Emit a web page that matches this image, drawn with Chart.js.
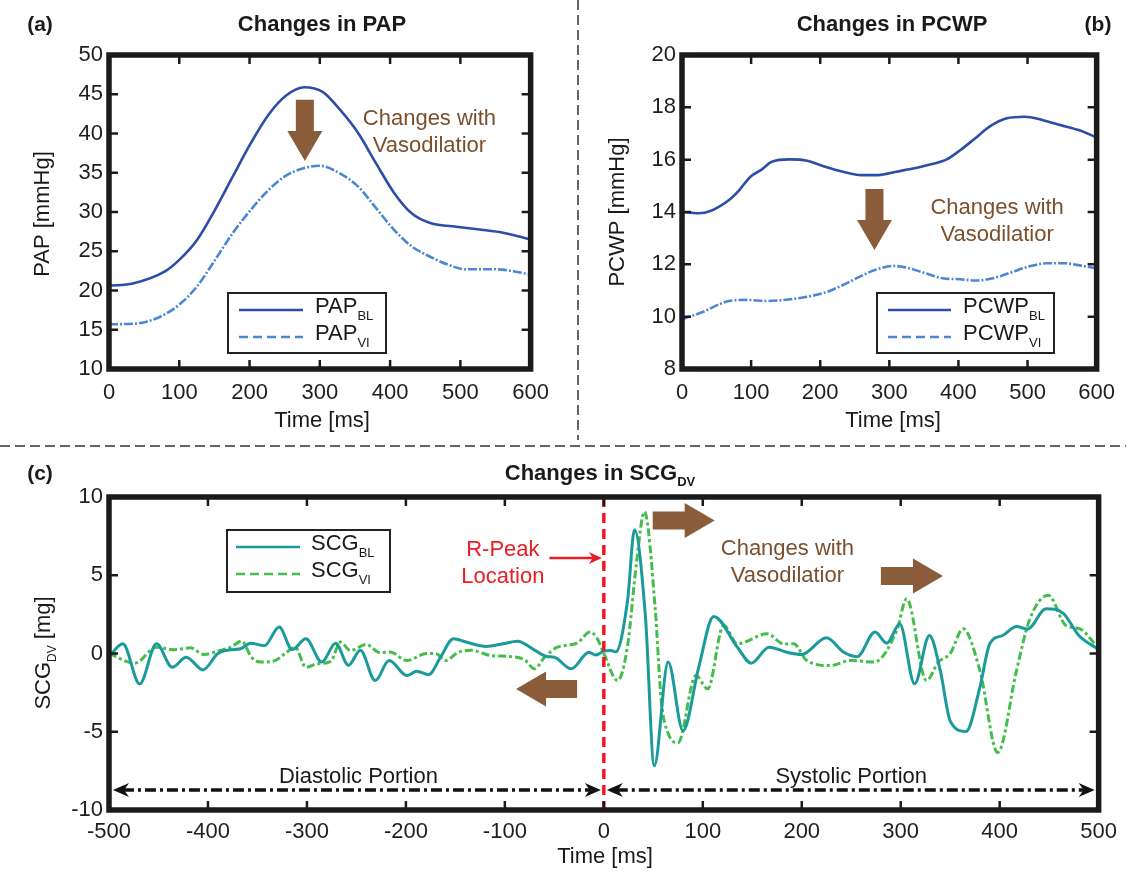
<!DOCTYPE html>
<html>
<head>
<meta charset="utf-8">
<title>Changes in PAP, PCWP and SCG</title>
<script src="https://cdn.jsdelivr.net/npm/chart.js@4.4.0/dist/chart.umd.min.js"></script>
<style>
  html, body { margin: 0; padding: 0; background: #fff; }
  #page { position: relative; width: 1126px; height: 873px; }
  #page canvas { position: absolute; }
</style>
</head>
<body>
<div id="page">
  <canvas id="papChart" width="560" height="440" style="left:0;top:0"></canvas>
  <canvas id="pcwpChart" width="566" height="440" style="left:560px;top:0"></canvas>
  <canvas id="scgChart" width="1126" height="433" style="left:0;top:440px"></canvas>
</div>
<script>
const FONT = '"Liberation Sans", Arial, Helvetica, sans-serif';
const BROWN = '#8a5c3a';
const BROWN_TEXT = '#7b4f2b';

// (a) pulmonary artery pressure
const papTimeBL = [0, 34, 79, 100, 125, 151, 176, 202, 227, 253, 278, 304, 329, 355, 380, 406, 431, 457, 497, 533, 559, 600];
const papBL = [20.6, 20.9, 22.4, 23.9, 26.4, 30.3, 34.5, 38.8, 42.4, 44.9, 45.9, 45.3, 43.0, 40.0, 36.2, 32.4, 29.8, 28.6, 28.1, 27.7, 27.4, 26.5];
const papTimeVI = [0, 39, 69, 100, 125, 151, 176, 202, 227, 253, 278, 299, 329, 355, 380, 406, 431, 457, 482, 508, 549, 579, 600];
const papVI = [15.7, 15.8, 16.5, 18.2, 20.5, 23.9, 27.3, 30.3, 32.8, 34.7, 35.6, 35.9, 34.9, 33.2, 30.5, 27.7, 25.6, 24.3, 23.3, 22.7, 22.7, 22.4, 22.0];

// (b) pulmonary capillary wedge pressure
const pcwpTimeBL = [0, 24, 42, 68, 83, 99, 114, 130, 155, 181, 207, 233, 259, 284, 310, 336, 362, 383, 403, 424, 445, 470, 496, 522, 548, 574, 600];
const pcwpBL = [14.0, 13.95, 14.05, 14.46, 14.84, 15.35, 15.6, 15.92, 16.01, 15.96, 15.73, 15.54, 15.41, 15.41, 15.54, 15.67, 15.83, 16.01, 16.37, 16.81, 17.26, 17.58, 17.64, 17.51, 17.32, 17.13, 16.85];
const pcwpTimeVI = [0, 31, 52, 68, 93, 124, 155, 181, 207, 233, 259, 279, 305, 326, 352, 377, 403, 424, 450, 475, 501, 527, 553, 579, 600];
const pcwpVI = [9.9, 10.19, 10.45, 10.6, 10.64, 10.6, 10.66, 10.76, 10.92, 11.21, 11.55, 11.78, 11.94, 11.87, 11.66, 11.47, 11.43, 11.38, 11.47, 11.68, 11.91, 12.04, 12.04, 11.94, 11.85];

// (c) dorso-ventral SCG around the R-peak
const scgTimeBL = [-500, -486, -469, -452, -436, -422, -405, -390, -377, -367, -357, -343, -328, -315, -301, -285, -271, -258, -246, -231,
  -217, -199, -189, -177, -165, -152, -139, -119, -102, -87, -72, -58, -50, -33, -15, -8, 0, 7, 12, 24,
  31, 42, 51, 65, 80, 96, 111, 135, 149, 167, 185, 200, 225, 242, 256, 274, 286, 299, 314, 329,
  340, 350, 366, 380, 390, 403, 417, 428, 447, 464, 480, 500];
const scgBL = [-0.2, 0.62, -1.94, 0.62, -0.88, -0.24, -1.05, 0.0, 0.24, 0.3, 0.66, 0.5, 1.69, 0.25, 0.94, -0.55, 0.66, -0.75, 0.2, -1.73,
  -0.45, -1.41, -1.13, -1.35, -0.24, 0.94, 0.73, 0.45, 0.62, 0.79, 0.3, -0.19, -0.24, -0.98, 0.08, -0.1, 0.15, 0.19, 0.1, 3.4,
  7.9, 2.4, -7.18, -0.55, -4.94, -0.85, 2.37, 0.4, -0.62, 0.4, 0.08, -0.06, 1.0, 0.1, -0.2, 1.37, 0.66, 1.9, -1.94, 1.15,
  -1.09, -4.3, -4.98, -2.16, 0.62, 1.15, 1.73, 1.56, 2.86, 2.58, 1.15, 0.25];
const scgTimeVI = [-500, -474, -452, -434, -418, -404, -388, -377, -366, -356, -347, -334, -322, -312, -301, -290, -276, -266, -256, -240,
  -226, -216, -199, -179, -170, -160, -147, -134, -114, -93, -80, -70, -60, -47, -27, -14, -7, 0, 14, 24,
  33, 41, 52, 58, 65, 75, 93, 105, 121, 135, 165, 182, 192, 205, 229, 249, 273, 296, 306, 326,
  338, 350, 363, 380, 398, 417, 430, 449, 467, 481, 500];
const scgVI = [0.0, -0.62, 0.4, 0.24, 0.36, -0.06, 0.19, 0.4, 0.79, -0.24, -0.55, -0.5, 0.0, 0.4, -0.88, -0.66, -0.5, 0.73, 0.19, 0.58,
  0.05, 0.1, -0.45, 0.0, 0.0, -0.45, 0.08, 0.2, -0.13, -0.2, -0.4, -0.98, -0.25, 0.4, 0.66, 1.37, 1.0, 0.0, -1.73, 0.5,
  5.8, 9.06, 2.8, -3.0, -5.1, -5.7, -1.4, -2.26, 1.8, 0.62, 1.26, 0.6, 0.62, -0.45, -0.77, -0.45, -0.55, 1.47, 3.5, -1.73,
  -0.55, 0.0, 1.58, -1.09, -6.33, -1.09, 2.12, 3.72, 1.79, 1.58, 0.3];

// tick labels
const timeTicks = [0, 100, 200, 300, 400, 500, 600];
const papTicks = [10, 15, 20, 25, 30, 35, 40, 45, 50];
const pcwpTicks = [8, 10, 12, 14, 16, 18, 20];
const scgTimeTicks = [-500, -400, -300, -200, -100, 0, 100, 200, 300, 400, 500];
const scgTicks = [-10, -5, 0, 5, 10];

function pts(xs, ys) {
  return xs.map((x, i) => ({ x: x, y: ys[i] }));
}

function scaleOpts(min, max, values, pad, size, isY) {
  return {
    type: 'linear',
    min: min,
    max: max,
    grid: { display: false, drawTicks: false },
    border: { display: false },
    afterBuildTicks: s => { s.ticks = values.map(v => ({ value: v })); },
    afterFit: s => { if (isY) s.width = size; else s.height = size; },
    ticks: {
      font: { family: FONT, size: 22 },
      color: '#1e1e1e',
      padding: pad,
      autoSkip: false,
      maxRotation: 0,
      minRotation: 0,
    },
  };
}

function line(label, data, color, width, dash) {
  return {
    label: label,
    data: data,
    borderColor: color,
    borderWidth: width,
    borderDash: dash || [],
    pointRadius: 0,
    fill: false,
    cubicInterpolationMode: 'monotone',
  };
}

// text made of runs: [text, isSubscript]
function runsWidth(ctx, runs, o) {
  let w = 0;
  runs.forEach(([t, sub]) => {
    ctx.font = `${o.weight || 'normal'} ${sub ? o.subSize : o.size}px ${FONT}`;
    w += ctx.measureText(t).width;
  });
  return w;
}

function drawRuns(ctx, runs, x, y, o) {
  o = Object.assign({ size: 22, subSize: 13, subDrop: 7, align: 'left', color: '#1a1a1a' }, o);
  ctx.save();
  ctx.translate(x, y);
  if (o.rotate) ctx.rotate(-Math.PI / 2);
  let cx = o.align === 'center' ? -runsWidth(ctx, runs, o) / 2 : 0;
  ctx.textAlign = 'left';
  ctx.textBaseline = 'alphabetic';
  ctx.fillStyle = o.color;
  runs.forEach(([t, sub]) => {
    ctx.font = `${o.weight || 'normal'} ${sub ? o.subSize : o.size}px ${FONT}`;
    ctx.fillText(t, cx, sub ? o.subDrop : 0);
    cx += ctx.measureText(t).width;
  });
  ctx.restore();
}

function blockArrow(ctx, x1, y1, x2, y2, shaft, head, headLen) {
  const ang = Math.atan2(y2 - y1, x2 - x1);
  const len = Math.hypot(x2 - x1, y2 - y1);
  ctx.save();
  ctx.translate(x1, y1);
  ctx.rotate(ang);
  ctx.beginPath();
  ctx.moveTo(0, -shaft / 2);
  ctx.lineTo(len - headLen, -shaft / 2);
  ctx.lineTo(len - headLen, -head / 2);
  ctx.lineTo(len, 0);
  ctx.lineTo(len - headLen, head / 2);
  ctx.lineTo(len - headLen, shaft / 2);
  ctx.lineTo(0, shaft / 2);
  ctx.closePath();
  ctx.fillStyle = BROWN;
  ctx.fill();
  ctx.restore();
}

// small pointed head, dir = +1 points right, -1 points left
function arrowHead(ctx, x, y, dir, len, half, color) {
  ctx.beginPath();
  ctx.moveTo(x, y);
  ctx.lineTo(x - dir * len, y - half);
  ctx.lineTo(x - dir * len * 0.7, y);
  ctx.lineTo(x - dir * len, y + half);
  ctx.closePath();
  ctx.fillStyle = color;
  ctx.fill();
}

function dashedRule(ctx, x1, y1, x2, y2) {
  ctx.save();
  ctx.strokeStyle = '#333';
  ctx.lineWidth = 1.5;
  ctx.setLineDash([10, 5]);
  ctx.beginPath();
  ctx.moveTo(x1, y1);
  ctx.lineTo(x2, y2);
  ctx.stroke();
  ctx.restore();
}

// frame, inward ticks, legend, notes and arrows of one panel
function panelDecor(cfg) {
  return {
    id: 'panelDecor',
    afterDatasetsDraw(chart) {
      const ctx = chart.ctx;
      const a = chart.chartArea;
      const xs = chart.scales.x;
      const ys = chart.scales.y;
      const px = v => xs.getPixelForValue(v);
      const py = v => ys.getPixelForValue(v);
      ctx.save();

      if (cfg.rules) cfg.rules(ctx, chart);
      if (cfg.extra) cfg.extra(ctx, px, py, a);

      (cfg.arrows || []).forEach(ar => {
        blockArrow(ctx, px(ar.from[0]), py(ar.from[1]), px(ar.to[0]), py(ar.to[1]), 18, 35, 30);
      });

      (cfg.notes || []).forEach(n => {
        drawRuns(ctx, n.runs, px(n.at[0]), py(n.at[1]), Object.assign({ align: 'center' }, n.style));
      });

      // frame
      ctx.strokeStyle = '#1b1b1b';
      ctx.lineWidth = 5.5;
      ctx.setLineDash([]);
      ctx.strokeRect(a.left, a.top, a.right - a.left, a.bottom - a.top);

      // ticks pointing into the plot on all four sides
      ctx.lineWidth = 2.5;
      ctx.beginPath();
      xs.ticks.forEach(t => {
        const x = px(t.value);
        ctx.moveTo(x, a.bottom); ctx.lineTo(x, a.bottom - 9);
        ctx.moveTo(x, a.top); ctx.lineTo(x, a.top + 9);
      });
      ys.ticks.forEach(t => {
        const y = py(t.value);
        ctx.moveTo(a.left, y); ctx.lineTo(a.left + 9, y);
        ctx.moveTo(a.right, y); ctx.lineTo(a.right - 9, y);
      });
      ctx.stroke();

      // legend box
      const lg = cfg.legend;
      if (lg) {
        ctx.fillStyle = '#fff';
        ctx.fillRect(lg.box[0], lg.box[1], lg.box[2], lg.box[3]);
        ctx.strokeStyle = '#222';
        ctx.lineWidth = 2;
        ctx.strokeRect(lg.box[0], lg.box[1], lg.box[2], lg.box[3]);
        lg.items.forEach(it => {
          const ds = chart.data.datasets[it.ds];
          ctx.strokeStyle = ds.borderColor;
          ctx.lineWidth = 2.5;
          ctx.setLineDash(it.dash || []);
          ctx.beginPath();
          ctx.moveTo(lg.lineX[0], it.y);
          ctx.lineTo(lg.lineX[1], it.y);
          ctx.stroke();
          ctx.setLineDash([]);
          drawRuns(ctx, it.runs, lg.textX, it.y + 3, {});
        });
      }

      (cfg.labels || []).forEach(l => drawRuns(ctx, l.runs, l.x, l.y, l.style));
      ctx.restore();
    },
  };
}

const bold = { weight: 'bold', size: 22, subSize: 13, subDrop: 6, align: 'center' };
const letter = { weight: 'bold', size: 21, align: 'center' };
const brownText = { color: BROWN_TEXT };

function baseOptions(xScale, yScale, padding) {
  return {
    responsive: false,
    animation: false,
    events: [],
    layout: { padding: padding },
    plugins: { legend: { display: false }, tooltip: { enabled: false }, title: { display: false } },
    scales: { x: xScale, y: yScale },
  };
}

new Chart(document.getElementById('papChart'), {
  type: 'line',
  data: {
    datasets: [
      line('PAP BL', pts(papTimeBL, papBL), '#2d4ea7', 2.6),
      line('PAP VI', pts(papTimeVI, papVI), '#4c88d2', 2.6, [9, 2, 2, 2]),
    ],
  },
  options: baseOptions(
    scaleOpts(0, 600, timeTicks, 11, 71, false),
    scaleOpts(10, 50, papTicks, 6, 109, true),
    { top: 55, right: 29, left: 0, bottom: 0 }
  ),
  plugins: [panelDecor({
    arrows: [{ from: [278.7, 44.3], to: [278.7, 36.5] }],
    notes: [
      { runs: [['Changes with']], at: [456, 41.1], style: brownText },
      { runs: [['Vasodilatior']], at: [456, 37.6], style: brownText },
    ],
    legend: {
      box: [228, 293, 158, 60], lineX: [239, 303], textX: 315,
      items: [
        { ds: 0, y: 310, runs: [['PAP'], ['BL', true]] },
        { ds: 1, y: 337, runs: [['PAP'], ['VI', true]], dash: [9, 5] },
      ],
    },
    labels: [
      { runs: [['(a)']], x: 40, y: 31, style: letter },
      { runs: [['Changes in PAP']], x: 322, y: 31, style: bold },
      { runs: [['Time [ms]']], x: 322, y: 427, style: { align: 'center' } },
      { runs: [['PAP [mmHg]']], x: 49, y: 214, style: { align: 'center', rotate: true } },
    ],
  })],
});

new Chart(document.getElementById('pcwpChart'), {
  type: 'line',
  data: {
    datasets: [
      line('PCWP BL', pts(pcwpTimeBL, pcwpBL), '#2d4ea7', 2.6),
      line('PCWP VI', pts(pcwpTimeVI, pcwpVI), '#4c88d2', 2.6, [9, 2, 2, 2]),
    ],
  },
  options: baseOptions(
    scaleOpts(0, 600, timeTicks, 11, 71, false),
    scaleOpts(8, 20, pcwpTicks, 6, 122, true),
    { top: 55, right: 26, left: 0, bottom: 0 }
  ),
  plugins: [panelDecor({
    rules: ctx => dashedRule(ctx, 18, 0, 18, 440),
    arrows: [{ from: [278.5, 14.88], to: [278.5, 12.55] }],
    notes: [
      { runs: [['Changes with']], at: [456, 13.92], style: brownText },
      { runs: [['Vasodilatior']], at: [456, 12.89], style: brownText },
    ],
    legend: {
      box: [317, 293, 177, 60], lineX: [328, 391], textX: 403,
      items: [
        { ds: 0, y: 310, runs: [['PCWP'], ['BL', true]] },
        { ds: 1, y: 337, runs: [['PCWP'], ['VI', true]], dash: [9, 5] },
      ],
    },
    labels: [
      { runs: [['(b)']], x: 538, y: 31, style: letter },
      { runs: [['Changes in PCWP']], x: 332, y: 31, style: bold },
      { runs: [['Time [ms]']], x: 333, y: 427, style: { align: 'center' } },
      { runs: [['PCWP [mmHg]']], x: 64, y: 212, style: { align: 'center', rotate: true } },
    ],
  })],
});

new Chart(document.getElementById('scgChart'), {
  type: 'line',
  data: {
    datasets: [
      line('SCG BL', pts(scgTimeBL, scgBL), '#1a9a9b', 3),
      line('SCG VI', pts(scgTimeVI, scgVI), '#43bd4b', 3, [8, 3, 3, 3]),
    ],
  },
  options: baseOptions(
    scaleOpts(-500, 500, scgTimeTicks, 9, 63, false),
    scaleOpts(-10, 10, scgTicks, 6, 109, true),
    { top: 57, right: 25, left: 0, bottom: 0 }
  ),
  plugins: [panelDecor({
    rules: ctx => dashedRule(ctx, 0, 6, 1126, 6),
    extra: (ctx, px, py, a) => {
      // R-peak marker
      ctx.save();
      ctx.strokeStyle = '#ec1c24';
      ctx.lineWidth = 3.5;
      ctx.setLineDash([10, 6]);
      ctx.beginPath();
      ctx.moveTo(px(0), a.top);
      ctx.lineTo(px(0), a.bottom);
      ctx.stroke();
      ctx.setLineDash([]);
      ctx.lineWidth = 2.5;
      ctx.beginPath();
      ctx.moveTo(px(-55), py(6.1));
      ctx.lineTo(px(-2) - 8, py(6.1));
      ctx.stroke();
      arrowHead(ctx, px(-2), py(6.1), 1, 13, 6, '#ec1c24');
      drawRuns(ctx, [['R-Peak']], px(-102), py(6.23), { align: 'center', color: '#ec1c24' });
      drawRuns(ctx, [['Location']], px(-102), py(4.5), { align: 'center', color: '#ec1c24' });

      // diastolic / systolic spans
      const yv = py(-8.72);
      ctx.strokeStyle = '#111';
      ctx.lineWidth = 3.5;
      ctx.setLineDash([11, 4, 3, 4]);
      ctx.beginPath();
      ctx.moveTo(px(-496) + 10, yv); ctx.lineTo(px(-3) - 10, yv);
      ctx.moveTo(px(3) + 10, yv); ctx.lineTo(px(496) - 10, yv);
      ctx.stroke();
      ctx.setLineDash([]);
      arrowHead(ctx, px(-496), yv, -1, 16, 7, '#111');
      arrowHead(ctx, px(-3), yv, 1, 16, 7, '#111');
      arrowHead(ctx, px(3), yv, -1, 16, 7, '#111');
      arrowHead(ctx, px(496), yv, 1, 16, 7, '#111');
      drawRuns(ctx, [['Diastolic Portion']], px(-248), py(-8.27), { align: 'center' });
      drawRuns(ctx, [['Systolic Portion']], px(250), py(-8.27), { align: 'center' });
      ctx.restore();
    },
    arrows: [
      { from: [49.4, 8.5], to: [112, 8.5] },
      { from: [280, 4.95], to: [342.7, 4.95] },
      { from: [-27, -2.27], to: [-88.7, -2.27] },
    ],
    notes: [
      { runs: [['Changes with']], at: [185.5, 6.29], style: brownText },
      { runs: [['Vasodilatior']], at: [185.5, 4.59], style: brownText },
    ],
    legend: {
      box: [227, 90, 163, 62], lineX: [236, 300], textX: 311,
      items: [
        { ds: 0, y: 107, runs: [['SCG'], ['BL', true]] },
        { ds: 1, y: 134, runs: [['SCG'], ['VI', true]], dash: [9, 5] },
      ],
    },
    labels: [
      { runs: [['(c)']], x: 40, y: 40, style: letter },
      { runs: [['Changes in SCG'], ['DV', true]], x: 600, y: 40, style: bold },
      { runs: [['Time [ms]']], x: 605, y: 423, style: { align: 'center' } },
      { runs: [['SCG'], ['DV', true], [' [mg]']], x: 50, y: 213, style: { align: 'center', rotate: true, subSize: 12, subDrop: 6 } },
    ],
  })],
});
</script>
</body>
</html>
